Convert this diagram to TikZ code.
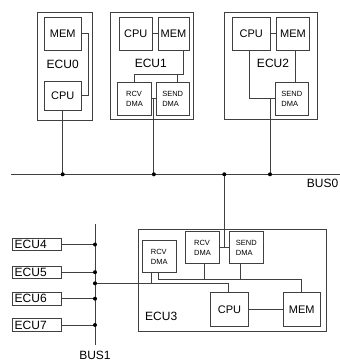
\documentclass[tikz,border=0pt]{standalone}
\usepackage{fontspec}
\setmainfont{Liberation Sans}
\usetikzlibrary{calc}
\definecolor{ln}{HTML}{404040}
\tikzset{
  wire/.style={draw=ln, line width=0.8pt},
  box/.style={draw=ln, line width=0.8pt, rectangle, inner sep=0pt, anchor=center, font=\fontsize{11}{12}\selectfont},
  dmabox/.style={box, align=left, font=\fontsize{7.5}{10}\selectfont},
  ecutxt/.style={inner sep=0pt, font=\fontsize{12}{13}\selectfont},
  dot/.style={circle, fill=black, inner sep=0pt, minimum size=4pt},
}
\begin{document}
\begin{tikzpicture}[x=1pt,y=-1pt]
\useasboundingbox (0,0) rectangle (340,362);
% ECU0
\node[box, minimum width=55pt, minimum height=107.3pt] (E0) at (65.2,66.3) {};
\node[box, minimum width=36.7pt, minimum height=32.7pt] (MEM0) at (62.7,33.7) {MEM};
\node[box, minimum width=36.7pt, minimum height=29pt] (CPU0) at (62.7,95.5) {CPU};
\node[ecutxt] (L0) at (62.7,64) {ECU0};
% ECU1
\node[box, minimum width=82.6pt, minimum height=106.6pt] (E1) at (152,66) {};
\node[box, minimum width=33pt, minimum height=32.7pt] (CPU1) at (135.8,33.7) {CPU};
\node[box, minimum width=31pt, minimum height=32.7pt] (MEM1) at (173.5,33.7) {MEM};
\node[ecutxt] (L1) at (150.8,63.5) {ECU1};
\node[dmabox, minimum width=34.4pt, minimum height=32.3pt] (RCV1) at (134.5,98.8) {RCV\\DMA};
\node[dmabox, minimum width=33.3pt, minimum height=32.3pt] (SEND1) at (172.7,98.8) {SEND\\DMA};
% ECU2
\node[box, minimum width=93.4pt, minimum height=106.6pt] (E2) at (271,66) {};
\node[box, minimum width=37.3pt, minimum height=32.7pt] (CPU2) at (251.3,33.7) {CPU};
\node[box, minimum width=32.6pt, minimum height=32.7pt] (MEM2) at (293,33.7) {MEM};
\node[ecutxt] (L2) at (273,63.5) {ECU2};
\node[dmabox, minimum width=33.7pt, minimum height=32.3pt] (SEND2) at (291.8,98.8) {SEND\\DMA};
% BUS0
\coordinate (b0L) at (11,174.3);
\coordinate (b0R) at (340,174.3);
\draw[wire] (b0L) -- (b0R);
\node[ecutxt, anchor=west] (B0) at (306.7,183.5) {BUS0};
% ECU0 wiring
\draw[wire] (MEM0.east) -- ++(6.7,0) |- (CPU0.east);
\coordinate (j0) at (CPU0.south |- b0L);
\draw[wire] (CPU0.south) -- (j0);
% ECU1 wiring
\draw[wire] (CPU1.east) -- (MEM1.west);
\draw[wire] ([xshift=9.8pt]MEM1.south) -- ++(0,24) -| (RCV1.north);
\draw[wire] ([xshift=4.6pt]SEND1.north) -- ++(0,-8.7);
\draw[wire] (RCV1.east) -- (SEND1.west);
\coordinate (m1) at ($(RCV1.east)!0.5!(SEND1.west)$);
\coordinate (j1) at (m1 |- b0L);
\draw[wire] (m1) -- (j1);
% ECU2 wiring
\draw[wire] (CPU2.east) -- (MEM2.west);
\draw[wire] ([xshift=-2pt]CPU2.south) |- (SEND2.west);
\draw[wire] ([xshift=2.7pt]MEM2.south) -- ([xshift=2.7pt]MEM2.south |- SEND2.north);
\coordinate (m2) at (270,98.8);
\coordinate (j3) at (m2 |- b0L);
\draw[wire] (m2) -- (j3);
% ECU3
\node[box, minimum width=188.4pt, minimum height=101.7pt] (E3) at (232.5,280.2) {};
\node[dmabox, minimum width=33.7pt, minimum height=31.6pt] (RCV3a) at (159.2,256.5) {RCV\\DMA};
\node[dmabox, minimum width=33.6pt, minimum height=31.6pt] (RCV3b) at (202.5,247.5) {RCV\\DMA};
\node[dmabox, minimum width=34pt, minimum height=31.6pt] (SEND3) at (246.3,247.5) {SEND\\DMA};
\node[box, minimum width=37.6pt, minimum height=33.3pt] (CPU3) at (229.5,309.3) {CPU};
\node[box, minimum width=36.7pt, minimum height=33.3pt] (MEM3) at (301.7,309.3) {MEM};
\node[ecutxt, anchor=west] (L3) at (145,316.7) {ECU3};
\draw[wire] (CPU3.east) -- (MEM3.west);
\draw[wire] (RCV3b.east) -- (SEND3.west);
\coordinate (m3) at ($(RCV3b.east)!0.5!(SEND3.west)$);
\coordinate (j2) at (m3 |- b0L);
\draw[wire] (j2) -- (m3);
\coordinate (r3) at (0,279);
\draw[wire] ([xshift=-1pt]RCV3a.south) |- (r3 -| MEM3.north) -- (MEM3.north);
\draw[wire] ([xshift=1.5pt]RCV3b.south) -- ([xshift=1.5pt]RCV3b.south |- r3);
\draw[wire] ([xshift=-6.3pt]SEND3.south) -- ([xshift=-6.3pt]SEND3.south |- r3);
% BUS1
\coordinate (b1T) at (95,224);
\coordinate (b1B) at (95,345);
\draw[wire] (b1T) -- (b1B);
\node[ecutxt] (B1) at (95,355) {BUS1};
\coordinate (k) at (95,283.3);
\draw[wire] (k) -| ([xshift=-1.2pt]CPU3.north);
\draw[wire] ([xshift=-7.5pt]RCV3a.south) -- ([xshift=-7.5pt]RCV3a.south |- k);
\foreach \n/\y in {4/244.5,5/272.2,6/298.7,7/325}{
  \node[box, minimum width=48.7pt, minimum height=12.4pt, font=\fontsize{12}{13}\selectfont, text width=44pt, align=left] (ECU\n) at (36.7,\y) {ECU\n};
  \draw[wire] (ECU\n.east) -- (ECU\n.east -| b1T) coordinate (d\n);
  \node[dot] at (d\n) {};
}
\node[dot] at (k) {};
\foreach \j in {j0,j1,j2,j3}{\node[dot] at (\j) {};}
\end{tikzpicture}
\end{document}
